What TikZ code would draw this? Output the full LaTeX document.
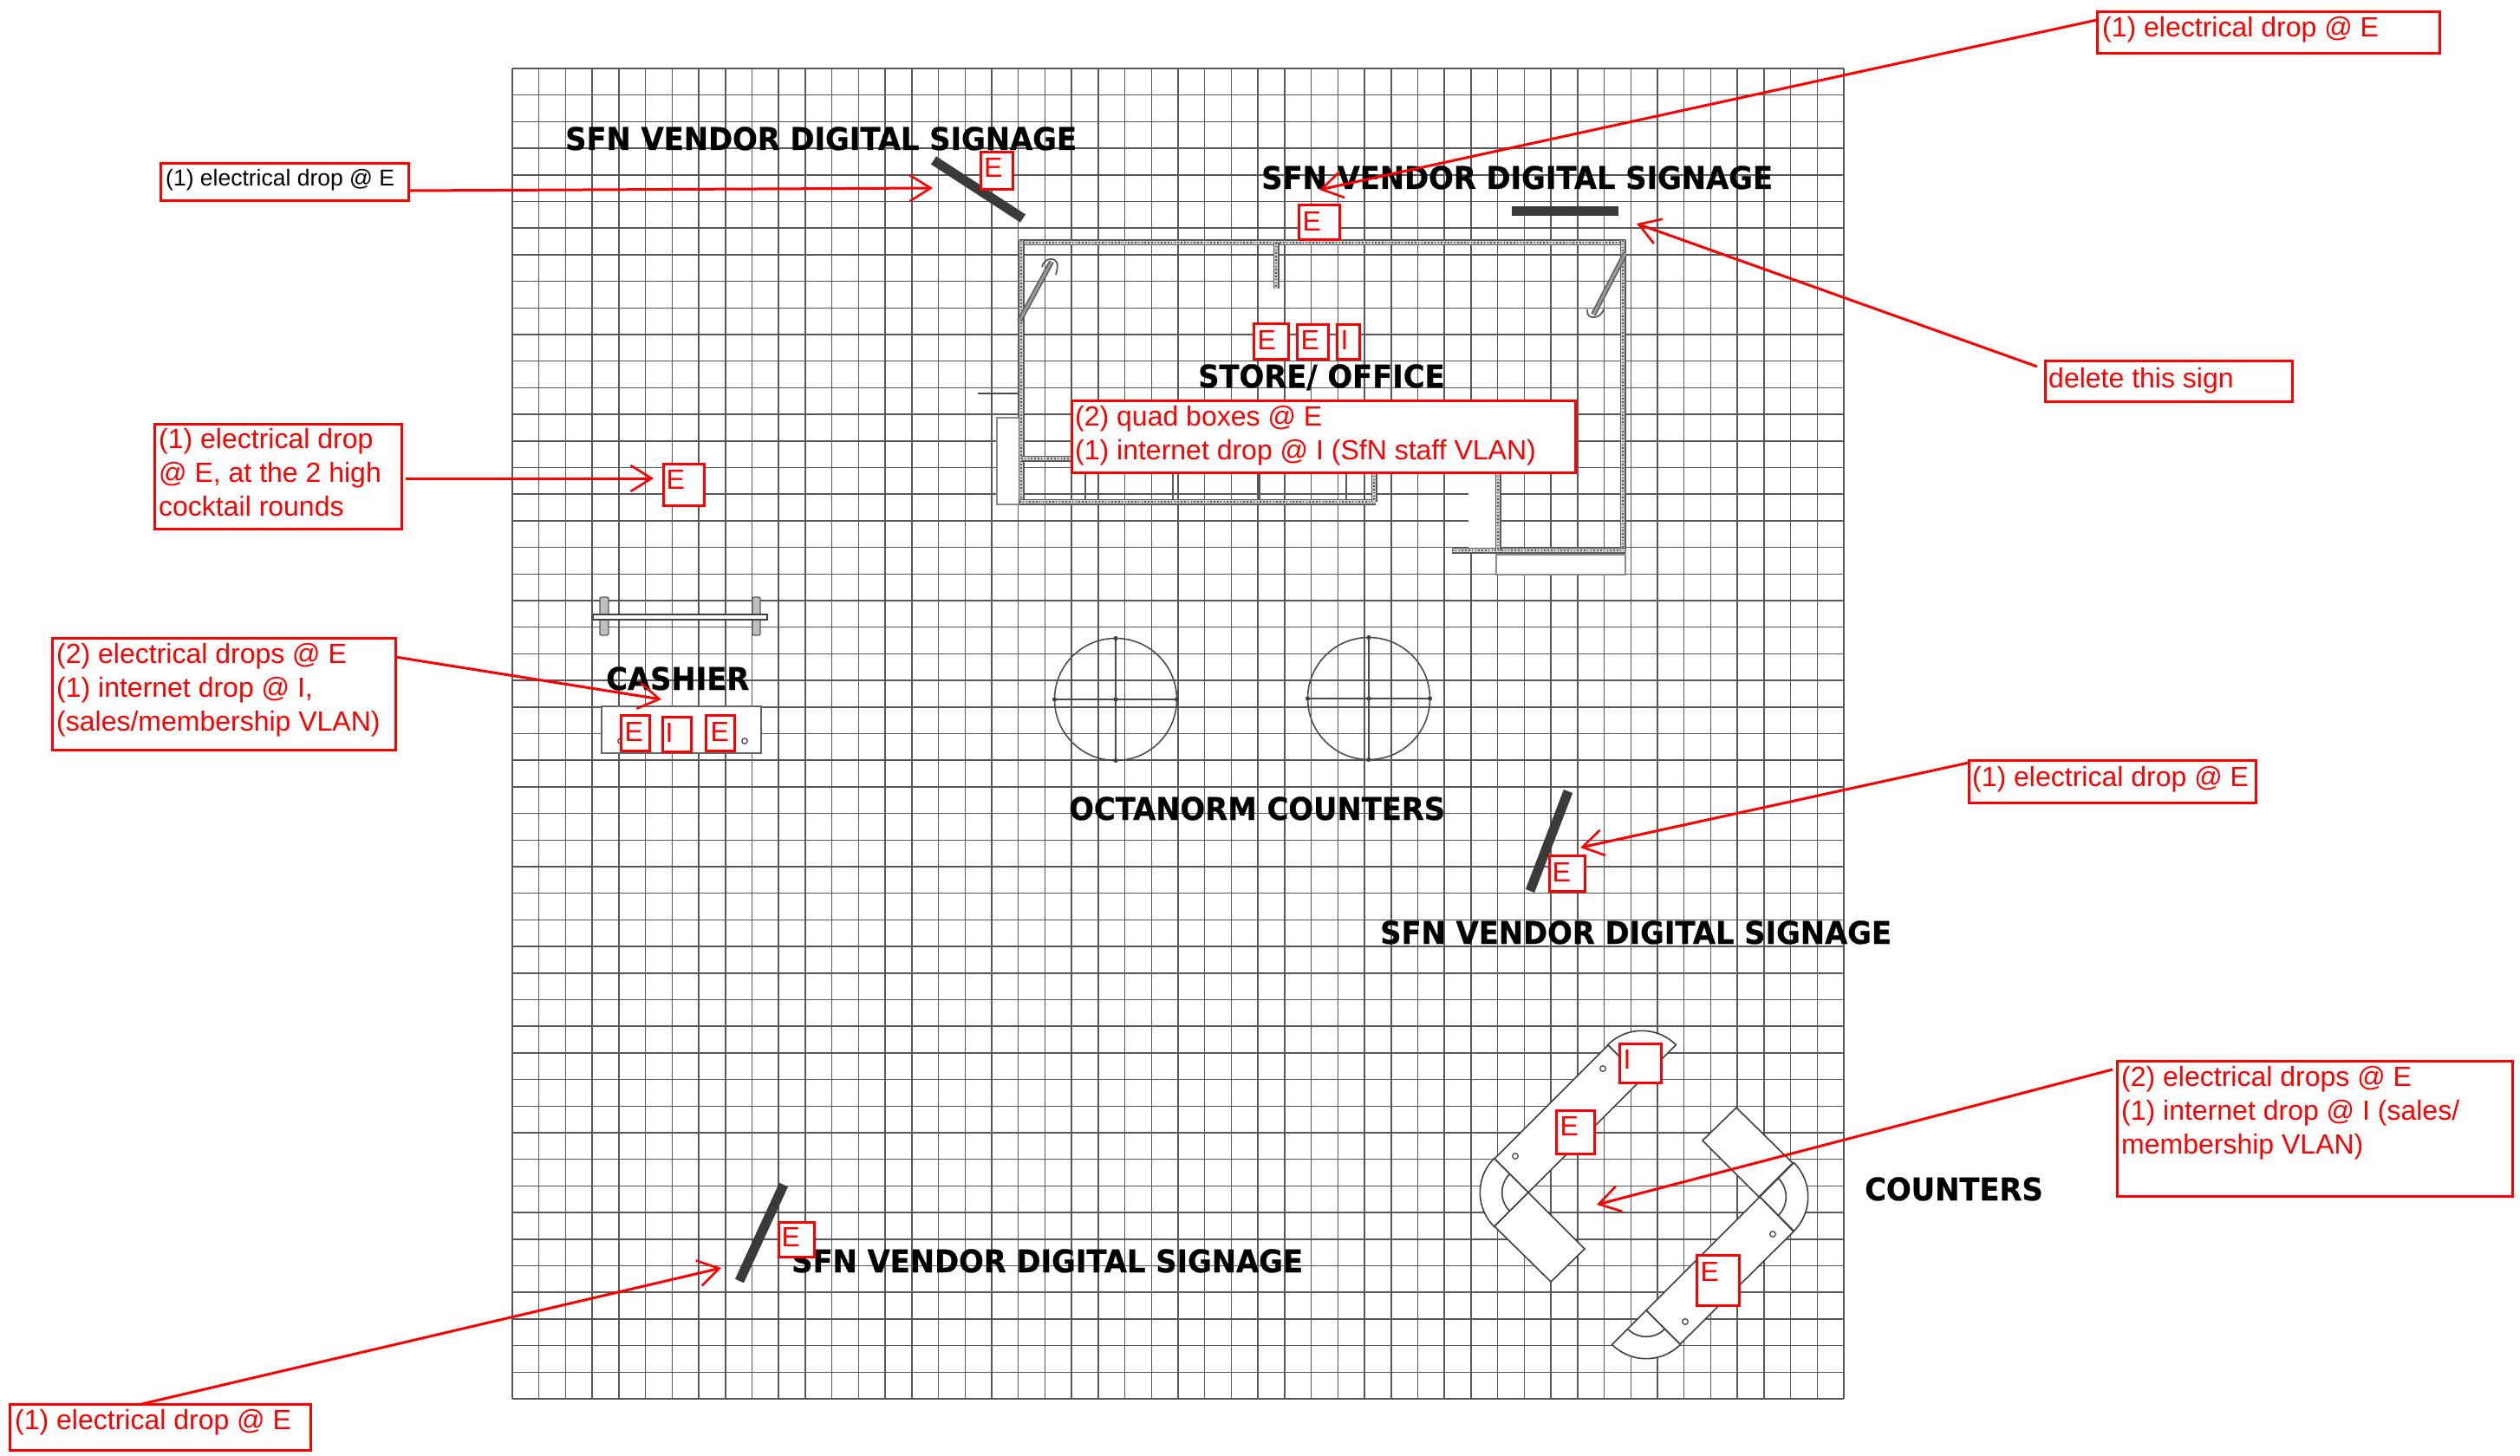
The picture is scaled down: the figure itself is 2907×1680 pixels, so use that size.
\documentclass[tikz,border=0pt]{standalone}
\usepackage{fontspec}
\usepackage{graphicx}
\usetikzlibrary{arrows.meta}
\newfontfamily\redfont{Liberation Sans}
\newfontfamily\headfont[FakeBold=0.6]{DejaVu Sans Bold}
\definecolor{gridgray}{HTML}{585858}
\definecolor{signdark}{HTML}{3A3A3A}
\definecolor{redmark}{HTML}{FF0000}
\tikzset{
  gridline/.style={draw=gridgray,line width=1.5pt},
  heading/.style={anchor=base west,inner sep=0pt,text=black,font=\headfont\fontsize{36}{40}\selectfont},
  lbltext/.style={anchor=base west,inner sep=0pt,align=left,text=redmark,font=\redfont\fontsize{32}{38.7}\selectfont},
  blacktext/.style={anchor=base west,inner sep=0pt,text=black,font=\redfont\fontsize{26.5}{32}\selectfont},
  redbox/.style={draw=redmark,fill=white,line width=3pt,inner sep=0pt,outer sep=0pt},
  redarrow/.style={draw=redmark,line width=3pt,-{Straight Barb[length=24pt,width=30pt,line width=2.6pt]}},
  signbar/.style={draw=signdark,line width=11pt},
  wallout/.style={draw=gridgray,line width=7pt,line cap=butt,line join=miter},
  wallmid/.style={draw=black!18,line width=4pt},
  walldots/.style={draw=gridgray,line width=2.6pt,dash pattern=on 1.6pt off 2.2pt},
  fixture/.style={draw=black!75,fill=white,line width=1.6pt},
  thinline/.style={draw=black!70,line width=1.6pt},
  rackpost/.style={draw=black!65,fill=black!25,line width=1.4pt,rounded corners=2pt},
  peg/.style={draw=black!70,fill=white,line width=1.3pt},
  crossbar/.style={draw=black!70,line width=2.4pt},
  crossdot/.style={fill=black!75,draw=none},
  brace/.style={draw=black!65,line width=6pt},
  bracein/.style={draw=black!40,line width=3pt},
}
\newcommand{\hs}[1]{\scalebox{0.938}[1]{#1}}
% name, x1,y1,x2,y2
\newcommand{\markbox}[5]{%
  \pgfmathsetmacro{\bw}{#4-#2}\pgfmathsetmacro{\bh}{#5-#3}%
  \pgfmathsetmacro{\bx}{(#4+#2)/2}\pgfmathsetmacro{\by}{(#5+#3)/2}%
  \node[redbox,minimum width=\bw pt,minimum height=\bh pt] (#1) at (\bx,\by) {};}
\newcommand{\wallrun}[1]{%
  \draw[wallout] #1;\draw[wallmid] #1;\draw[walldots] #1;}
% cx,cy,r,a1,a2
\newcommand{\sectorfill}[5]{%
  \filldraw[fixture] (#1,#2) -- plot[domain=#4:#5,samples=24] ({#1+#3*cos(\x)},{#2-#3*sin(\x)}) -- cycle;}
\newcommand{\arcpart}[5]{%
  \draw[fixture,fill=none] plot[domain=#4:#5,samples=24] ({#1+#3*cos(\x)},{#2-#3*sin(\x)});}
\begin{document}
\begin{tikzpicture}[x=1pt,y=-1pt]
\useasboundingbox (0,0) rectangle (2907,1680);
\fill[white] (0,0) rectangle (2907,1680);
% grid
\foreach \i in {0,...,50}{
  \draw[gridline] ({591+30.72*\i},79) -- ({591+30.72*\i},1614);
  \draw[gridline] (591,{79+30.7*\i}) -- (2127,{79+30.7*\i});
}
% white pads around the store
\filldraw[draw=black!45,fill=white,line width=1.4pt] (1150,482) rectangle (1178,582);
\fill[white] (1694,545) rectangle (1728,632);
\filldraw[draw=black!45,fill=white,line width=1.4pt] (1726,640) rectangle (1875,663);
% store walls
\wallrun{(1176,280) -- (1875,280)}
\wallrun{(1178,277) -- (1178,582)}
\wallrun{(1176,579) -- (1587,579)}
\wallrun{(1585,545) -- (1585,579)}
\wallrun{(1872,277) -- (1872,638)}
\wallrun{(1675,635) -- (1875,635)}
\wallrun{(1728,545) -- (1728,635)}
\wallrun{(1472,280) -- (1472,333)}
\wallrun{(1178,529) -- (1240,529)}
\draw[draw=black!70,line width=2.5pt] (1128,454) -- (1176,454);
\foreach \vx in {1252,1353,1453,1553}{\draw[draw=black!65,line width=2.2pt] (\vx,545) -- (\vx,576);}
% door braces
\draw[brace] (1176,370) -- (1213,302);
\draw[bracein] (1176,370) -- (1213,302);
\draw[thinline] (1202,308) .. controls (1204,301) and (1208,299) .. (1212,299) .. controls (1219,299) and (1222,303) .. (1218,317);
\draw[brace] (1875,292) -- (1838,363);
\draw[bracein] (1875,292) -- (1838,363);
\draw[thinline] (1831,357) .. controls (1830,363) and (1834,367) .. (1839,366) .. controls (1844,366) and (1848,362) .. (1850,357);
% signs
\draw[signbar] (1077,185) -- (1180,252);
\draw[signbar] (1744,243.5) -- (1867,243.5);
\draw[signbar] (1809,913) -- (1765,1028);
\draw[signbar] (904,1367) -- (853,1478);
% cashier
\filldraw[rackpost] (692,689) rectangle (702,733);
\filldraw[rackpost] (868,689) rectangle (877,733);
\filldraw[fixture] (684,709) rectangle (885,715);
\filldraw[draw=black!60,fill=white,line width=1.4pt] (694,815) rectangle (878,869);
\draw[peg] (716,855) circle (3.2);
\draw[peg] (859,855) circle (3.2);
% round tables
\foreach \cx/\cy in {1287/807,1579/806}{
  \draw[draw=black!70,line width=1.6pt] (\cx,\cy) circle (70.5);
  \draw[crossbar] ({\cx-70.5},\cy) -- ({\cx+70.5},\cy);
  \draw[crossbar] (\cx,{\cy-70.5}) -- (\cx,{\cy+70.5});
  \foreach \dx/\dy in {-70.5/0,70.5/0,0/-70.5,0/70.5,0/0}{
    \fill[crossdot] ({\cx+\dx},{\cy+\dy}) circle (2.6);
  }
}
% counters: left unit
\sectorfill{1894}{1245}{55.7}{45}{135}
\filldraw[fixture] (1855,1206) -- (1724,1337) -- (1763,1376) -- (1894,1245) -- cycle;
\sectorfill{1763}{1376}{55.7}{135}{225}
\arcpart{1763}{1376}{30.3}{135}{225}
\filldraw[fixture] (1763,1376) -- (1724,1415) -- (1789,1479) -- (1828,1441) -- cycle;
\draw[peg] (1849,1233) circle (3.3);
\draw[peg] (1748,1334) circle (3.3);
% counters: right unit
\filldraw[fixture] (2003,1278) -- (1964,1316) -- (2029,1381) -- (2068,1342) -- cycle;
\sectorfill{2030}{1381}{55.7}{-45}{45}
\arcpart{2030}{1381}{30.3}{-45}{45}
\filldraw[fixture] (2030,1381) -- (1899,1512) -- (1938,1551) -- (2069,1421) -- cycle;
\sectorfill{1899}{1512}{55.7}{225}{315}
\arcpart{1899}{1512}{30.3}{225}{315}
\draw[peg] (2045,1424) circle (3.3);
\draw[peg] (1944,1525) circle (3.3);
% headings
\node[heading] (h1) at (652,173) {\hs{SFN VENDOR DIGITAL SIGNAGE}};
\node[heading] (h2) at (1455,218) {\hs{SFN VENDOR DIGITAL SIGNAGE}};
\node[heading] (h3) at (1592,1089) {\hs{SFN VENDOR DIGITAL SIGNAGE}};
\node[heading] (h4) at (913,1468) {\hs{SFN VENDOR DIGITAL SIGNAGE}};
\node[heading] (h5) at (1382,447) {\hs{STORE/ OFFICE}};
\node[heading] (h6) at (699,796) {\hs{CASHIER}};
\node[heading] (h7) at (1233,946) {\hs{OCTANORM COUNTERS}};
\node[heading] (h8) at (2151,1385) {\hs{COUNTERS}};
% letter boxes
\foreach \nm/\xa/\ya/\xb/\yb/\ltr/\tx/\ty in {
  ma/1131/176/1168/219/E/1135/205,
  mb/1498/237/1545/277/E/1502.5/267,
  mc/1446/373/1486/414/E/1450.5/403,
  md/1496/374/1532/414/E/1500.5/403,
  me/1542/374/1568/414/I/1546.5/403,
  mf/765/535/812/583/E/768.5/564,
  mg/716/825/749/866/E/720.5/855,
  mh/764/827/797/867/I/767.5/856,
  mi/814/825/847/866/E/819.5/855,
  mj/1787/987/1828/1028/E/1790.5/1017,
  mk/898/1410/939/1450/E/901.5/1438,
  ml/1868/1204/1916/1249/I/1872.5/1233,
  mm/1795/1281/1839/1331/E/1799.5/1310,
  mn/1957/1448/2006/1506/E/1961.5/1478}{
  \markbox{\nm}{\xa}{\ya}{\xb}{\yb}
  \node[lbltext] (\nm t) at (\tx,\ty) {\ltr};
}
% callout boxes
\markbox{la}{2419}{14}{2814}{62}
\node[lbltext] (lat) at (2425,43) {(1) electrical drop @ E};
\markbox{lb}{185}{189}{471}{232}
\node[blacktext] (lbt) at (191,215) {(1) electrical drop @ E};
\markbox{lc}{2359}{416}{2644}{463}
\node[lbltext] (lct) at (2363,447) {delete this sign};
\markbox{ld}{178}{489}{463}{610}
\node[lbltext] (ldt) at (183,595) {(1) electrical drop\\@ E, at the 2 high\\cocktail rounds};
\markbox{le}{60}{736}{456}{865}
\node[lbltext] (let) at (65,843) {(2) electrical drops @ E\\(1) internet drop @ I,\\(sales/membership VLAN)};
\markbox{lf}{1236}{462}{1817}{545}
\node[lbltext] (lft) at (1240,530) {(2) quad boxes @ E\\(1) internet drop @ I (SfN staff VLAN)};
\markbox{lg}{2271}{877}{2602}{926}
\node[lbltext] (lgt) at (2275,907) {(1) electrical drop @ E};
\markbox{lh}{2442}{1224}{2898}{1380}
\node[lbltext] (lht) at (2447,1331) {(2) electrical drops @ E\\(1) internet drop @ I (sales/\\membership VLAN)};
\markbox{li}{11.5}{1620}{358}{1673}
\node[lbltext] (lit) at (17,1649) {(1) electrical drop @ E};
% arrow end points
\coordinate (ta) at (1522,219);
\coordinate (tb) at (1076,217);
\coordinate (tc) at (1888,258);
\coordinate (td) at (754,552);
\coordinate (te) at (763,807);
\coordinate (tg) at (1823,978);
\coordinate (th) at (1842,1390);
\coordinate (ti) at (832,1463);
% arrows
\draw[redarrow] ([yshift=-9pt]la.north west) -- (ta);
\draw[redarrow] ([yshift=-31pt]lb.north east) -- (tb);
\draw[redarrow] ([xshift=-9pt,yshift=-7pt]lc.north west) -- (tc);
\draw[redarrow] ([xshift=5pt,yshift=-63pt]ld.north east) -- (td);
\draw[redarrow] ([yshift=-22pt]le.north east) -- (te);
\draw[redarrow] ([yshift=-3pt]lg.north west) -- (tg);
\draw[redarrow] ([xshift=-5pt,yshift=-10pt]lh.north west) -- (th);
\draw[redarrow] ([xshift=152pt]li.north west) -- (ti);
\end{tikzpicture}
\end{document}
